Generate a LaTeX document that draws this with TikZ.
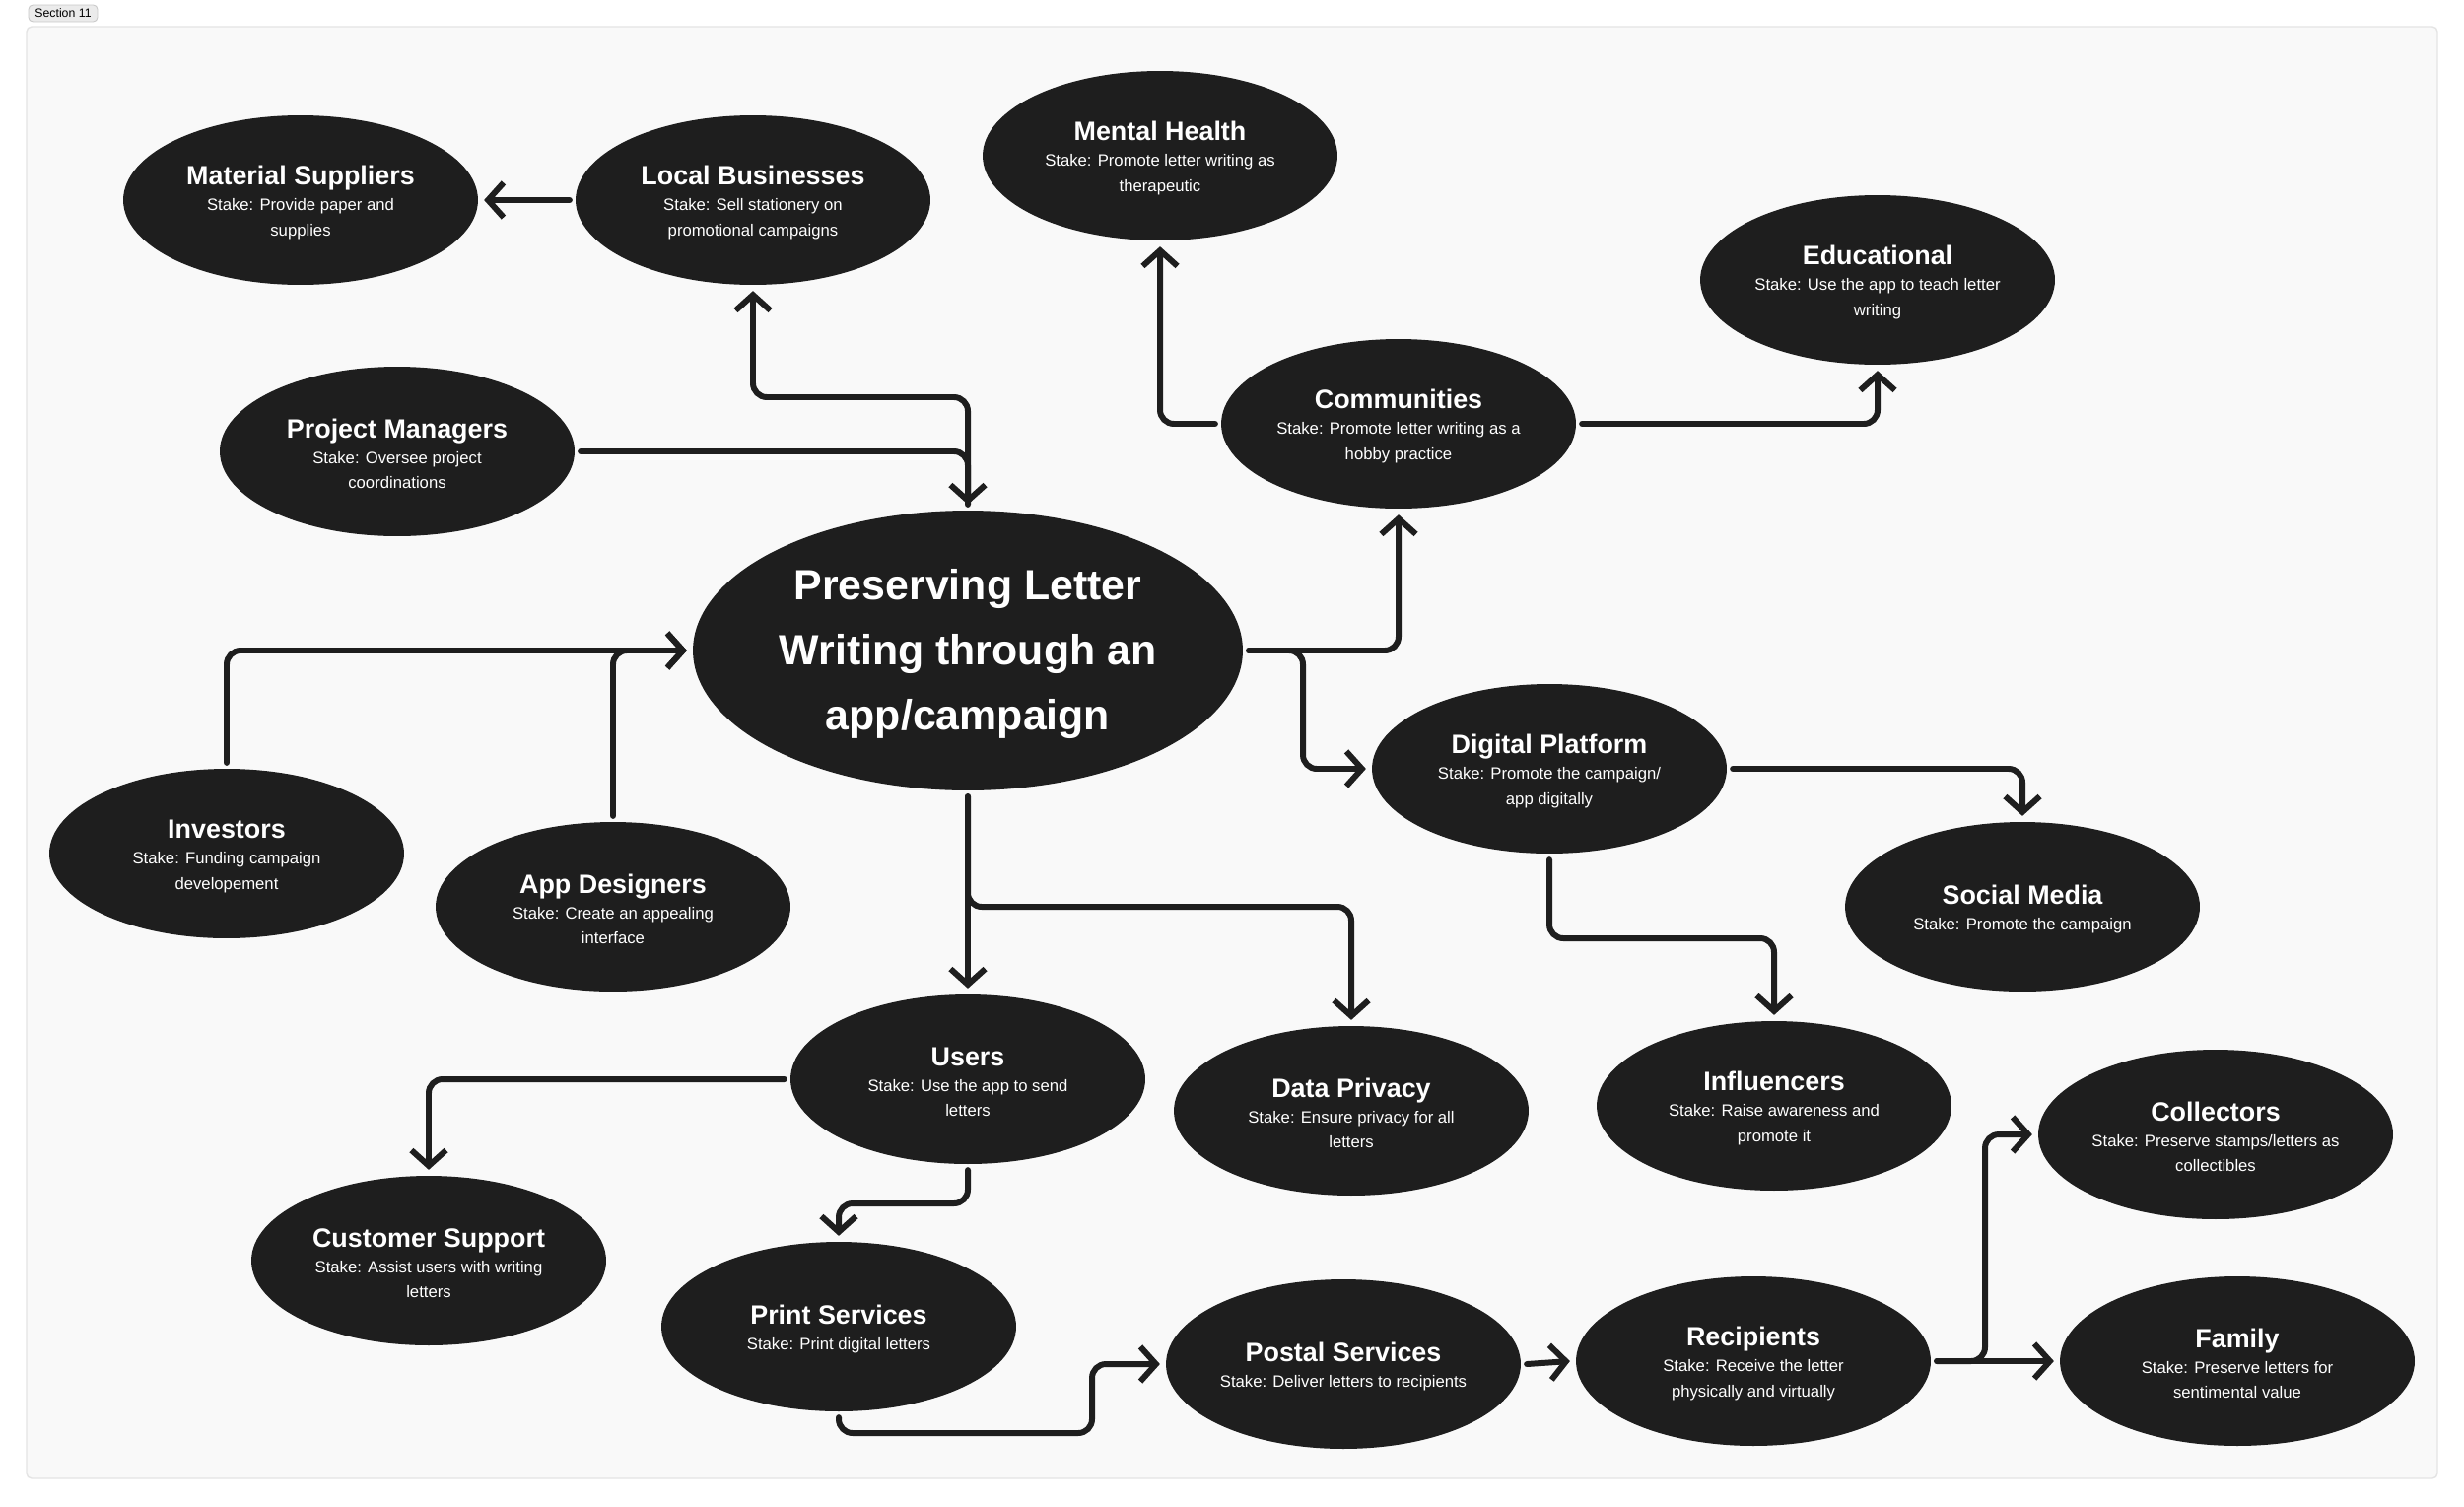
\documentclass[tikz,border=0pt]{standalone}
\usepackage{fontspec}
\setmainfont{Liberation Sans}
\usetikzlibrary{shapes.geometric,arrows.meta,positioning}
\definecolor{inkdark}{HTML}{1E1E1E}
\definecolor{canvas}{HTML}{F9F9F9}
\definecolor{canvasline}{HTML}{E4E4E4}
\definecolor{tagfill}{HTML}{EBEBEB}
\definecolor{tagline}{HTML}{C8C8C8}
\newcommand{\stk}[2]{{\fontsize{15.3}{16}\selectfont\bfseries\rule{0pt}{14pt}#1}\\[0.2pt]#2}

\begin{document}
\begin{tikzpicture}[
  x=0.02cm, y=-0.02cm,
  holder/.style={ellipse,fill=inkdark,text=white,minimum width=7.2cm,minimum height=3.44cm,inner sep=0pt,outer sep=3.5pt,align=center,font=\fontsize{9.5}{14.5}\selectfont},
  hub/.style={holder,minimum width=11.16cm,minimum height=5.68cm,font=\fontsize{24.4}{37.5}\selectfont\bfseries},
  conn/.style={draw=inkdark,line width=3.4pt,rounded corners=8pt,line cap=round,-{Straight Barb[length=9pt,width=20pt]}},
  tag/.style={draw=tagline,fill=tagfill,rounded corners=2.5pt,line width=0.5pt,minimum width=1.4cm,minimum height=0.34cm,inner sep=0pt,font=\fontsize{7}{8}\selectfont}
]
\fill[white] (0,0) rectangle (2500,1528);
\draw[canvasline,fill=canvas,line width=0.8pt,rounded corners=3pt] (27,27) rectangle (2473,1500);
\node[tag] (sect) at (64,13.5) {Section 11};

\node[hub] (main) at (982,660) {\rule{0pt}{21.4pt}Preserving Letter\\Writing through an\\app/campaign};
\node[holder] (matsup)  at (305,203)   {\stk{Material Suppliers}{Stake: Provide paper and\\supplies}};
\node[holder] (locb)    at (764,203)   {\stk{Local Businesses}{Stake: Sell stationery on\\promotional campaigns}};
\node[holder] (mental)  at (1177,158)  {\stk{Mental Health}{Stake: Promote letter writing as\\therapeutic}};
\node[holder] (edu)     at (1905,284)  {\stk{Educational}{Stake: Use the app to teach letter\\writing}};
\node[holder] (pm)      at (403,458)   {\stk{Project Managers}{Stake: Oversee project\\coordinations}};
\node[holder] (comm)    at (1419,430)  {\stk{Communities}{Stake: Promote letter writing as a\\hobby practice}};
\node[holder] (digital) at (1572,780)  {\stk{Digital Platform}{Stake: Promote the campaign/\\app digitally}};
\node[holder] (invest)  at (230,866)   {\stk{Investors}{Stake: Funding campaign\\developement}};
\node[holder] (appdes)  at (622,920)   {\stk{App Designers}{Stake: Create an appealing\\interface}};
\node[holder] (social)  at (2052,920)  {\stk{Social Media}{Stake: Promote the campaign}};
\node[holder] (users)   at (982,1095)  {\stk{Users}{Stake: Use the app to send\\letters}};
\node[holder] (privacy) at (1371,1127) {\stk{Data Privacy}{Stake: Ensure privacy for all\\letters}};
\node[holder] (influ)   at (1800,1122) {\stk{Influencers}{Stake: Raise awareness and\\promote it}};
\node[holder] (collect) at (2248,1151) {\stk{Collectors}{Stake: Preserve stamps/letters as\\collectibles}};
\node[holder] (support) at (435,1279)  {\stk{Customer Support}{Stake: Assist users with writing\\letters}};
\node[holder] (print)   at (851,1346)  {\stk{Print Services}{Stake: Print digital letters}};
\node[holder] (postal)  at (1363,1384) {\stk{Postal Services}{Stake: Deliver letters to recipients}};
\node[holder] (recip)   at (1779,1381) {\stk{Recipients}{Stake: Receive the letter\\physically and virtually}};
\node[holder] (family)  at (2270,1381) {\stk{Family}{Stake: Preserve letters for\\sentimental value}};

\coordinate (split) at (1322,660);
\coordinate (hop) at (1108,1454);

\draw[conn] (locb.west) -- (matsup.east);
\draw[conn] (main.north) -- (main.north |- 0,403) -| (locb.south);
\draw[conn] (pm.east) -| (main.north);
\draw[conn] (comm.west) -| (mental.south);
\draw[conn] (comm.east) -| (edu.south);
\draw[conn] (main.east) -| (comm.south);
\draw[conn] (main.east) -- (split) |- (digital.west);
\draw[conn] (digital.east) -| (social.north);
\draw[conn] (digital.south) -- (digital.south |- 0,952) -| (influ.north);
\draw[conn] (invest.north) |- (main.west);
\draw[conn] (appdes.north) |- (main.west);
\draw[conn] (main.south) -- (users.north);
\draw[conn] (main.south) -- (main.south |- 0,920) -| (privacy.north);
\draw[conn] (users.west) -| (support.north);
\draw[conn] (users.south) -- (users.south |- 0,1221) -| (print.north);
\draw[conn] (print.south) |- (hop) |- (postal.west);
\draw[conn] (postal.east) -- (recip.west);
\draw[conn] (recip.east) -- (recip.east -| 2014,0) |- (collect.west);
\draw[conn] (recip.east) -- (family.west);
\end{tikzpicture}
\end{document}
